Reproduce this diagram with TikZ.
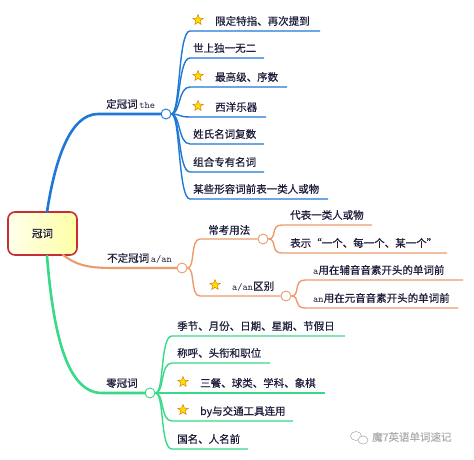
\documentclass[tikz,border=0pt]{standalone}
\usepackage{fontspec}
\setmainfont{Noto Sans CJK SC}[FakeBold=0.6]
\usetikzlibrary{shapes.geometric}
\definecolor{bluec}{RGB}{30,120,212}
\definecolor{orangec}{RGB}{234,156,110}
\definecolor{greenc}{RGB}{55,218,135}
\definecolor{txtc}{RGB}{30,30,60}
\definecolor{rootred}{RGB}{200,45,55}
\definecolor{wmgray}{RGB}{175,175,175}
\newcommand\fs{\fontsize{10.5}{12}\selectfont}
\newcommand\lat[1]{{\ttfamily\fontsize{10}{12}\selectfont #1}}
\tikzset{
  txt/.style={anchor=base west, inner sep=0pt, text=txtc, font=\fs},
  hub/.style={circle, draw=#1, fill=white, line width=0.9pt, minimum size=10pt, inner sep=0pt},
  starnode/.style={star, star points=5, star point ratio=2.3, minimum size=11pt, inner sep=0pt,
    fill=yellow!80!orange, draw=orange!85!black, line width=0.4pt},
  leafline/.style={draw=#1, line width=1.4pt},
  mainline/.style={draw=#1, line width=2.6pt, line cap=round},
  rootbox/.style={rectangle, rounded corners=7pt, draw=rootred, line width=1.6pt,
    left color=yellow!8, right color=yellow!35, minimum width=69pt, minimum height=43pt,
    text=txtc, font=\fs, inner sep=0pt}
}
% #1 name #2 parent #3 colour #4 y #5 x start of horizontal #6 x end #7 text x #8 text
\newcommand\leaf[8]{%
  \coordinate (#1s) at (#5,#4);
  \coordinate (#1e) at (#6,#4);
  \node[txt] (#1) at (#7,#4-6) {#8};
  \draw[leafline=#3] (#2.east) .. controls +(9,0) and +(-12,0) .. (#1s) -- (#1e);
}
\newcommand\mstar[3]{\node[starnode] (#1) at (#2,#3) {};}
\begin{document}
\begin{tikzpicture}[x=1pt,y=-1pt]
\useasboundingbox (0,0) rectangle (474,460);
\fill[white] (0,0) rectangle (474,460);

% root
\node[rootbox] (root) at (42.5,233.5) {冠词};
\coordinate (rbt) at (47,212);
\coordinate (rbo) at (63,255);
\coordinate (rbg) at (47,256);

% ---------- blue branch ----------
\node[hub=bluec] (cb) at (166,114) {};
\coordinate (bh) at (98,114);
\draw[mainline=bluec] (rbt) .. controls (55,160) and (70,114) .. (bh) -- (cb.west);
\node[txt] (bl) at (106,108) {定冠词\,\lat{the}};

\leaf{b1}{cb}{bluec}{31}{190}{320}{215}{限定特指、再次提到}
\mstar{s1}{198}{20}
\leaf{b2}{cb}{bluec}{58}{190}{264}{193}{世上独一无二}
\leaf{b3}{cb}{bluec}{87}{190}{287}{215}{最高级、序数}
\mstar{s3}{198}{76}
\leaf{b4}{cb}{bluec}{117}{190}{266}{215}{西洋乐器}
\mstar{s4}{198}{106}
\leaf{b5}{cb}{bluec}{144}{190}{264}{193}{姓氏名词复数}
\leaf{b6}{cb}{bluec}{172}{190}{264}{193}{组合专有名词}
\leaf{b7}{cb}{bluec}{199}{190}{328}{193}{某些形容词前表一类人或物}

% ---------- orange branch ----------
\node[hub=orangec] (co) at (182,268) {};
\coordinate (oh) at (120,268);
\draw[mainline=orangec, line width=2.1pt] (rbo) .. controls (80,268) and (95,268) .. (oh) -- (co.west);
\node[txt] (ol) at (107,262) {不定冠词\,\lat{a/an}};

\node[hub=orangec] (c2) at (263,239) {};
\coordinate (o1s) at (200,239);
\draw[leafline=orangec] (co.east) .. controls +(8,0) and +(-10,0) .. (o1s) -- (c2.west);
\node[txt] (o1) at (208,234) {常考用法};

\node[hub=orangec] (c3) at (286,296) {};
\coordinate (o2s) at (200,296);
\draw[leafline=orangec] (co.east) .. controls +(8,0) and +(-10,0) .. (o2s) -- (c3.west);
\mstar{s5}{215}{285}
\node[txt] (o2) at (232,290) {\lat{a/an}区别};

\leaf{o11}{c2}{orangec}{225}{282}{372}{290}{代表一类人或物}
\leaf{o12}{c2}{orangec}{253}{282}{447}{290}{表示“一个、每一个、某一个”}
\leaf{o21}{c3}{orangec}{280}{305}{463}{313}{\lat{a}用在辅音音素开头的单词前}
\leaf{o22}{c3}{orangec}{308}{305}{458}{313}{\lat{an}用在元音音素开头的单词前}

% ---------- green branch ----------
\node[hub=greenc] (cg) at (150,393) {};
\coordinate (gh) at (102,393);
\draw[mainline=greenc] (rbg) .. controls (53,330) and (66,393) .. (gh) -- (cg.west);
\node[txt] (gl) at (106,387) {零冠词};

\leaf{g1}{cg}{greenc}{336}{172}{345}{177}{季节、月份、日期、星期、节假日}
\leaf{g2}{cg}{greenc}{363}{172}{270}{177}{称呼、头衔和职位}
\leaf{g3}{cg}{greenc}{393}{172}{325}{200}{三餐、球类、学科、象棋}
\mstar{s6}{183}{382}
\leaf{g4}{cg}{greenc}{421}{172}{293}{200}{by与交通工具连用}
\mstar{s7}{183}{410}
\leaf{g5}{cg}{greenc}{449}{172}{248}{177}{国名、人名前}

% ---------- watermark ----------
\draw[wmgray, line width=0.6pt] (356,436) ellipse [x radius=5.5pt, y radius=4.5pt];
\draw[wmgray, line width=0.6pt, fill=white] (363,440) ellipse [x radius=5pt, y radius=4pt];
\node[txt, text=wmgray] (wm) at (372,441) {魔7英语单词速记};
\end{tikzpicture}
\end{document}
